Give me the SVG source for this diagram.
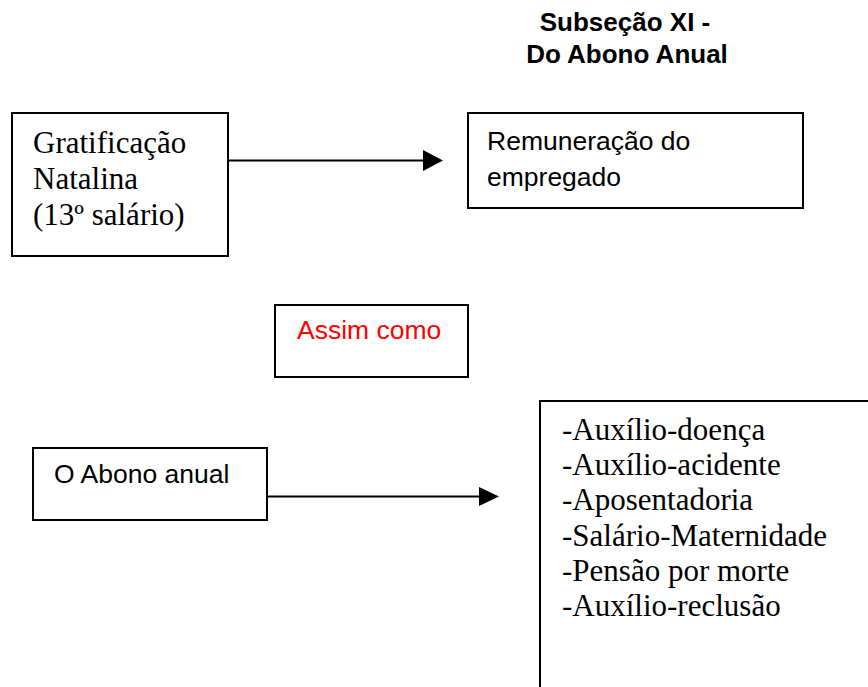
<svg xmlns="http://www.w3.org/2000/svg" width="868" height="687" viewBox="0 0 868 687">
<style>
.box{fill:#fff;stroke:#000;stroke-width:2}
.serif{font-family:"Liberation Serif","Times New Roman",serif;font-size:31px;fill:#000}
.sans{font-family:"Liberation Sans",Arial,sans-serif;font-size:26.5px;fill:#000}
.title{font-family:"Liberation Sans",Arial,sans-serif;font-size:26px;font-weight:bold;fill:#000;text-anchor:middle}
.conn{stroke:#000;stroke-width:2;fill:none}
</style>
<rect width="868" height="687" fill="#fff"/>
<g id="title">
<text class="title" x="625" y="31">Subseção XI -</text>
<text class="title" x="627" y="63">Do Abono Anual</text>
</g>
<g id="n-gratificacao">
<rect class="box" x="12" y="113" width="216" height="143"/>
<text class="serif" x="33" y="153">Gratificação</text>
<text class="serif" x="33" y="189">Natalina</text>
<text class="serif" x="33" y="225">(13º salário)</text>
</g>
<g id="n-remuneracao">
<rect class="box" x="468" y="113" width="335" height="95"/>
<text class="sans" x="487" y="150">Remuneração do</text>
<text class="sans" x="487" y="186">empregado</text>
</g>
<g id="n-assim">
<rect class="box" x="275" y="305" width="193" height="72"/>
<text class="sans" x="297" y="339" style="fill:#ff0000">Assim como</text>
</g>
<g id="n-abono">
<rect class="box" x="33" y="448" width="234" height="72"/>
<text class="sans" x="54" y="483">O Abono anual</text>
</g>
<g id="n-beneficios">
<rect class="box" x="540" y="401" width="340" height="300"/>
<text class="serif" x="562" y="440">-Auxílio-doença</text>
<text class="serif" x="562" y="475">-Auxílio-acidente</text>
<text class="serif" x="562" y="510">-Aposentadoria</text>
<text class="serif" x="562" y="546">-Salário-Maternidade</text>
<text class="serif" x="562" y="581">-Pensão por morte</text>
<text class="serif" x="562" y="616">-Auxílio-reclusão</text>
</g>
<g id="connectors">
<line class="conn" x1="228" y1="160.5" x2="424" y2="160.5"/>
<path d="M423,150 L443,160.5 L423,171 Z" fill="#000"/>
<line class="conn" x1="267" y1="496.5" x2="480" y2="496.5"/>
<path d="M479,487 L499,496.5 L479,506 Z" fill="#000"/>
</g>
</svg>
